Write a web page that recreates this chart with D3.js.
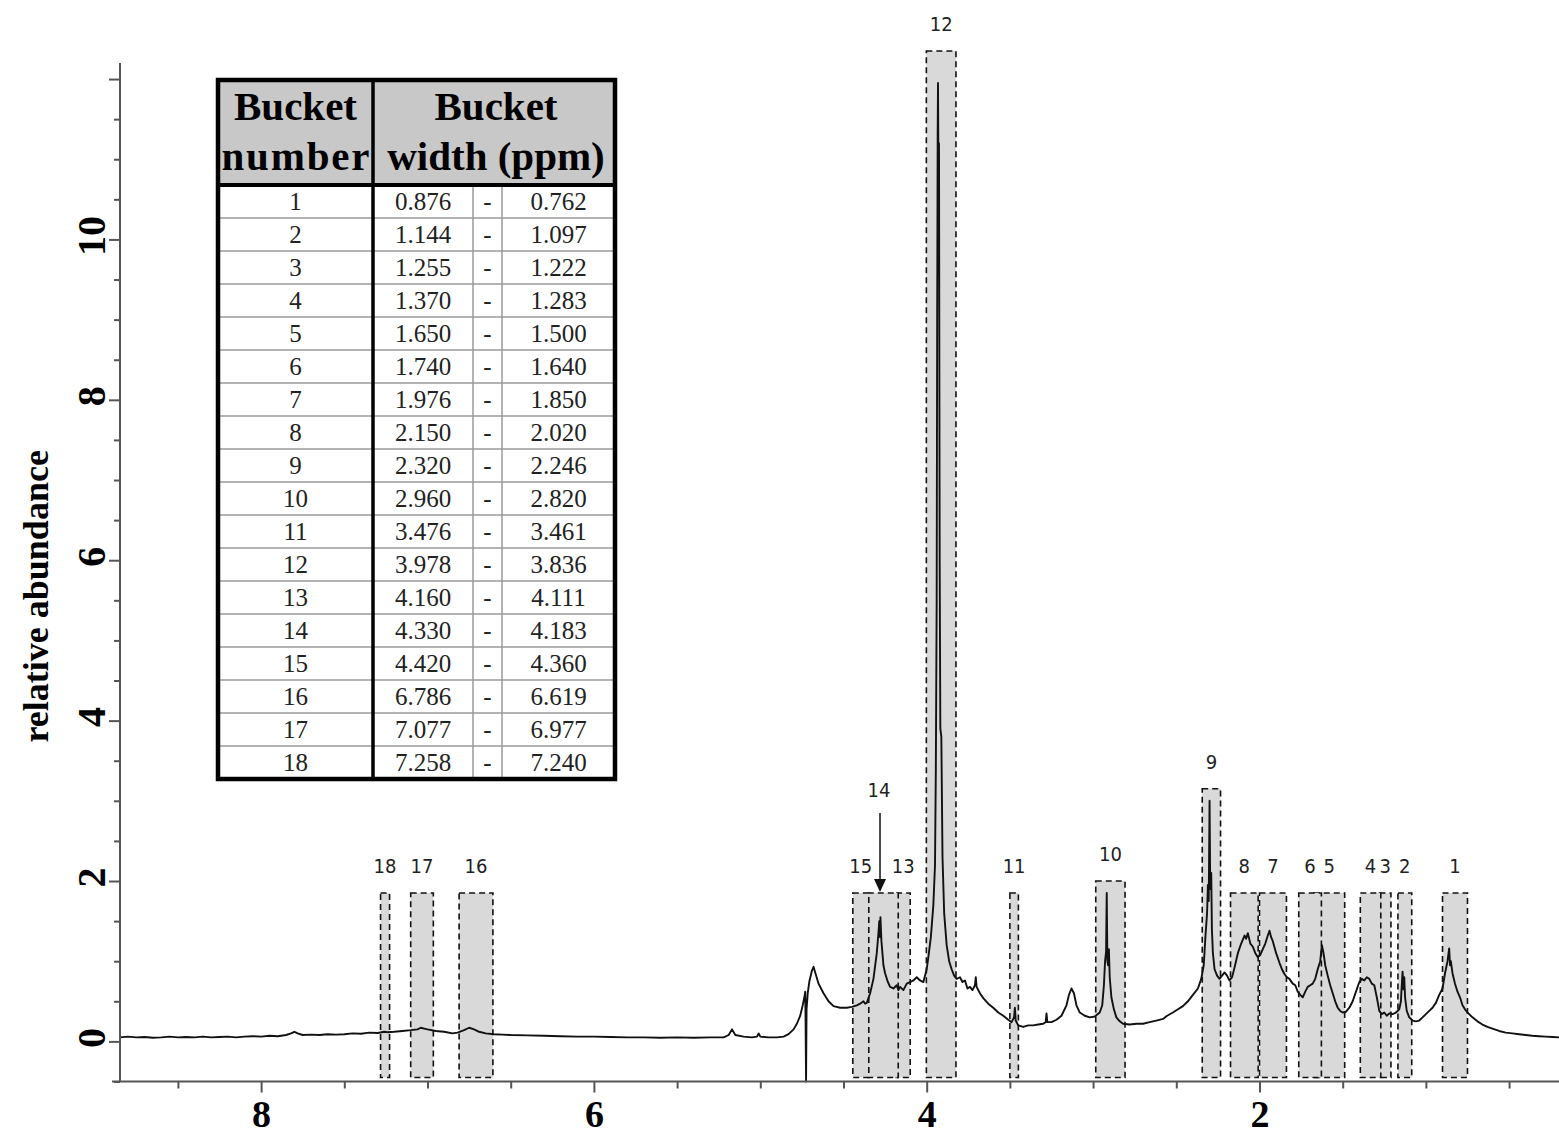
<!DOCTYPE html>
<html>
<head>
<meta charset="utf-8">
<script src="https://cdn.jsdelivr.net/npm/d3@7"></script>
<style>
  body { margin: 0; background: #fff; }
  svg { display: block; }
</style>
</head>
<body>
<svg id="chart" width="1559" height="1138"></svg>
<script>
// ---- bucket table: number, upper and lower chemical shift (ppm)
const bucketIds  = [1, 2, 3, 4, 5, 6, 7, 8, 9, 10, 11, 12, 13, 14, 15, 16, 17, 18];
const bucketFrom = ["0.876","1.144","1.255","1.370","1.650","1.740","1.976","2.150","2.320","2.960","3.476","3.978","4.160","4.330","4.420","6.786","7.077","7.258"];
const bucketTo   = ["0.762","1.097","1.222","1.283","1.500","1.640","1.850","2.020","2.246","2.820","3.461","3.836","4.111","4.183","4.360","6.619","6.977","7.240"];
// height of each shaded bucket window (relative abundance)
const bucketTop  = [1.85, 1.85, 1.85, 1.85, 1.85, 1.85, 1.85, 1.85, 3.15, 2.0, 1.85, 12.35, 1.85, 1.85, 1.85, 1.85, 1.85, 1.85];
const bucketFloor = -0.45;

// ---- axis ticks
const xLabelTicks = [8, 6, 4, 2];
const yLabelTicks = [0, 2, 4, 6, 8, 10];

// ---- 1H NMR spectrum: [chemical shift (ppm), relative abundance]
const spectrum = [
  [8.85,0.05],[8.80,0.06],[8.75,0.05],[8.70,0.055],[8.65,0.045],[8.60,0.05],[8.55,0.06],[8.50,0.05],
  [8.45,0.055],[8.40,0.05],[8.35,0.06],[8.30,0.05],[8.25,0.055],[8.20,0.06],[8.15,0.05],[8.10,0.06],
  [8.05,0.065],[8.00,0.06],[7.95,0.07],[7.90,0.065],[7.85,0.08],[7.82,0.10],[7.80,0.12],[7.78,0.10],
  [7.75,0.08],[7.70,0.085],[7.65,0.08],[7.60,0.09],[7.55,0.085],[7.50,0.09],[7.45,0.10],[7.40,0.095],
  [7.35,0.11],[7.30,0.105],[7.26,0.12],[7.24,0.115],[7.20,0.12],[7.15,0.13],[7.10,0.14],[7.06,0.15],
  [7.04,0.17],[7.02,0.16],[7.00,0.15],[6.95,0.13],[6.90,0.12],[6.85,0.10],[6.82,0.11],[6.78,0.14],
  [6.75,0.17],[6.72,0.15],[6.69,0.12],[6.65,0.10],[6.60,0.09],[6.55,0.085],[6.50,0.08],[6.40,0.075],
  [6.30,0.07],[6.20,0.065],[6.10,0.06],[6.00,0.06],[5.90,0.055],[5.80,0.05],[5.70,0.05],[5.60,0.045],
  [5.50,0.05],[5.40,0.045],[5.30,0.05],[5.22,0.05],[5.19,0.08],[5.17,0.15],[5.15,0.08],[5.10,0.06],
  [5.05,0.05],[5.02,0.06],[5.01,0.10],[5.00,0.06],[4.95,0.05],[4.90,0.05],[4.86,0.06],[4.83,0.09],
  [4.80,0.15],[4.78,0.22],[4.76,0.32],[4.745,0.45],[4.735,0.55],[4.73,0.62],[4.728,0.30],[4.725,-0.50],
  [4.722,0.40],[4.715,0.60],[4.705,0.75],[4.69,0.88],[4.68,0.93],[4.67,0.86],[4.65,0.72],[4.62,0.60],
  [4.59,0.50],[4.56,0.44],[4.52,0.42],[4.48,0.42],[4.45,0.43],[4.42,0.45],[4.40,0.47],[4.38,0.50],
  [4.37,0.47],[4.36,0.48],[4.34,0.60],[4.32,0.78],[4.30,1.10],[4.29,1.35],[4.285,1.50],[4.28,1.30],
  [4.278,1.55],[4.272,1.25],[4.26,0.95],[4.25,0.85],[4.235,0.75],[4.22,0.68],[4.20,0.66],[4.18,0.70],
  [4.17,0.64],[4.16,0.68],[4.14,0.64],[4.12,0.72],[4.10,0.74],[4.08,0.76],[4.06,0.80],[4.04,0.76],
  [4.02,0.74],[4.00,0.90],[3.99,1.05],[3.975,1.30],[3.96,1.70],[3.95,2.20],[3.945,3.40],[3.94,5.50],
  [3.937,9.00],[3.934,11.30],[3.932,11.95],[3.929,10.70],[3.926,11.20],[3.922,6.00],[3.918,3.90],
  [3.912,3.80],[3.905,2.30],[3.895,1.60],[3.88,1.20],[3.865,1.00],[3.85,0.90],[3.835,0.82],[3.82,0.78],
  [3.80,0.80],[3.785,0.74],[3.77,0.76],[3.755,0.66],[3.74,0.68],[3.725,0.64],[3.71,0.70],[3.705,0.80],
  [3.70,0.68],[3.68,0.60],[3.66,0.54],[3.63,0.47],[3.60,0.42],[3.57,0.36],[3.54,0.32],[3.51,0.27],
  [3.49,0.24],[3.475,0.30],[3.47,0.42],[3.465,0.26],[3.45,0.20],[3.42,0.18],[3.39,0.20],[3.36,0.20],
  [3.33,0.21],[3.30,0.22],[3.285,0.24],[3.28,0.35],[3.275,0.24],[3.25,0.24],[3.22,0.27],[3.19,0.32],
  [3.16,0.45],[3.145,0.58],[3.13,0.66],[3.115,0.60],[3.10,0.45],[3.08,0.36],[3.05,0.32],[3.02,0.30],
  [2.99,0.31],[2.96,0.36],[2.945,0.45],[2.935,0.70],[2.928,1.00],[2.922,1.12],[2.918,1.85],[2.914,1.00],
  [2.91,0.95],[2.905,1.15],[2.90,0.80],[2.89,0.55],[2.875,0.40],[2.86,0.30],[2.84,0.25],[2.82,0.22],
  [2.78,0.21],[2.74,0.22],[2.70,0.22],[2.66,0.24],[2.62,0.26],[2.58,0.28],[2.555,0.32],[2.52,0.36],
  [2.49,0.40],[2.46,0.44],[2.43,0.50],[2.40,0.58],[2.37,0.66],[2.35,0.78],[2.335,0.95],[2.325,1.30],
  [2.315,1.60],[2.31,1.95],[2.305,1.75],[2.30,3.00],[2.296,1.90],[2.29,2.10],[2.286,1.40],[2.28,1.10],
  [2.27,0.90],[2.255,0.82],[2.24,0.78],[2.225,0.82],[2.21,0.86],[2.195,0.82],[2.18,0.76],[2.165,0.80],
  [2.15,0.92],[2.13,1.10],[2.11,1.22],[2.09,1.32],[2.08,1.28],[2.07,1.35],[2.055,1.22],[2.04,1.18],
  [2.025,1.10],[2.01,1.05],[1.995,1.08],[1.98,1.15],[1.965,1.22],[1.95,1.32],[1.94,1.38],[1.93,1.30],
  [1.92,1.25],[1.90,1.10],[1.88,0.98],[1.865,0.90],[1.85,0.84],[1.835,0.80],[1.82,0.78],[1.80,0.72],
  [1.785,0.70],[1.77,0.62],[1.755,0.58],[1.74,0.55],[1.725,0.62],[1.71,0.68],[1.695,0.70],[1.68,0.72],
  [1.665,0.78],[1.65,0.90],[1.635,1.00],[1.625,1.20],[1.615,1.10],[1.605,0.95],[1.59,0.82],[1.575,0.70],
  [1.56,0.60],[1.545,0.50],[1.53,0.42],[1.515,0.38],[1.50,0.36],[1.48,0.37],[1.46,0.42],[1.44,0.50],
  [1.42,0.62],[1.40,0.74],[1.385,0.78],[1.37,0.76],[1.355,0.80],[1.34,0.78],[1.325,0.72],[1.31,0.70],
  [1.295,0.55],[1.28,0.38],[1.265,0.34],[1.25,0.36],[1.235,0.32],[1.22,0.35],[1.20,0.34],[1.18,0.36],
  [1.16,0.40],[1.15,0.50],[1.145,0.70],[1.14,0.87],[1.135,0.65],[1.13,0.80],[1.125,0.55],[1.115,0.38],
  [1.10,0.30],[1.08,0.26],[1.06,0.25],[1.04,0.26],[1.02,0.30],[1.00,0.34],[0.98,0.38],[0.96,0.42],
  [0.94,0.48],[0.92,0.58],[0.90,0.66],[0.885,0.85],[0.87,1.00],[0.86,1.16],[0.855,0.95],[0.85,1.00],
  [0.84,0.85],[0.825,0.72],[0.81,0.62],[0.795,0.55],[0.78,0.45],[0.765,0.40],[0.75,0.36],[0.72,0.30],
  [0.69,0.25],[0.66,0.21],[0.63,0.18],[0.60,0.16],[0.56,0.13],[0.52,0.11],[0.48,0.10],[0.44,0.09],
  [0.40,0.08],[0.36,0.07],[0.32,0.065],[0.28,0.06],[0.24,0.055],[0.20,0.05]
];

const svg = d3.select("#chart");
const W = 1559;

// reversed chemical-shift axis, as usual for NMR
const x = d3.scaleLinear().domain([8.848, 0.2]).range([120, W]);
const y = d3.scaleLinear().domain([-0.5, 12.2]).range([1081.5, 63]);

const serif = "'Liberation Serif', 'Times New Roman', serif";
const sans = "'DejaVu Sans Condensed', 'DejaVu Sans', sans-serif";

// ---- bucket windows
const buckets = bucketIds.map((id, i) => ({
  id, hi: +bucketFrom[i], lo: +bucketTo[i], top: bucketTop[i]
}));

const gB = svg.append("g");
gB.selectAll("rect").data(buckets).join("rect")
  .attr("x", d => x(d.hi) - 4)
  .attr("width", d => x(d.lo) - x(d.hi) + 6)
  .attr("y", d => y(d.top))
  .attr("height", d => y(bucketFloor) - y(d.top))
  .attr("fill", "#d9d9d9")
  .attr("stroke", "#111")
  .attr("stroke-width", 1.6)
  .attr("stroke-dasharray", "6,4");

// ---- spectrum trace
const line = d3.line().x(d => x(d[0])).y(d => y(d[1]));
svg.append("path").datum(spectrum)
  .attr("d", line)
  .attr("fill", "none")
  .attr("stroke", "#111")
  .attr("stroke-width", 1.9)
  .attr("stroke-linejoin", "round");

// ---- bucket labels
const cx = d => (x(d.hi) + x(d.lo)) / 2;
const gL = svg.append("g")
  .attr("font-family", sans).attr("font-size", 20).attr("fill", "#222")
  .attr("text-anchor", "middle");
gL.selectAll("text").data(buckets).join("text")
  .attr("x", d => cx(d) - (d.id === 14 ? 5 : 1))
  .attr("y", d => d.id === 14 ? y(d.top) - 96 : y(d.top) - 20)
  .text(d => d.id);

// arrow pointing into bucket 14
const b14 = buckets.find(d => d.id === 14);
const ax = cx(b14) - 4;
svg.append("line")
  .attr("x1", ax).attr("x2", ax)
  .attr("y1", y(b14.top) - 80).attr("y2", y(b14.top) - 12)
  .attr("stroke", "#111").attr("stroke-width", 1.5);
svg.append("path")
  .attr("d", `M${ax - 6},${y(b14.top) - 14} L${ax + 6},${y(b14.top) - 14} L${ax},${y(b14.top) - 1} Z`)
  .attr("fill", "#111");

// ---- axes
const axisColor = "#555";
const xMinor = d3.range(0.5, 8.51, 0.5).filter(v => !xLabelTicks.includes(v));
const gxMinor = svg.append("g").attr("transform", `translate(0,${y(-0.5)})`)
  .call(d3.axisBottom(x).tickValues(xMinor).tickSize(7).tickFormat(""));
const gx = svg.append("g").attr("transform", `translate(0,${y(-0.5)})`)
  .call(d3.axisBottom(x).tickValues(xLabelTicks).tickSize(11).tickPadding(14).tickFormat(d3.format("d")));
gx.select(".domain").attr("d", `M112,0H${W}`);
gxMinor.select(".domain").remove();
[gx, gxMinor].forEach(g => {
  g.selectAll("path,line").attr("stroke", axisColor).attr("stroke-width", 2);
});
gx.selectAll("text")
  .attr("font-family", serif).attr("font-weight", "bold").attr("font-size", 38)
  .attr("fill", "#000").attr("y", 45).attr("dy", 0);

const yMinor = d3.range(-0.5, 12.01, 0.5).filter(v => !(v >= 0 && v % 2 === 0));
const gyMinor = svg.append("g").attr("transform", "translate(120,0)")
  .call(d3.axisLeft(y).tickValues(yMinor).tickSize(6).tickFormat(""));
const gy = svg.append("g").attr("transform", "translate(120,0)")
  .call(d3.axisLeft(y).tickValues([...yLabelTicks, 12]).tickSize(11)
    .tickFormat(d => yLabelTicks.includes(d) ? d3.format("d")(d) : ""));
gyMinor.select(".domain").remove();
gy.select(".domain").attr("d", `M0,${y(12.2)}V${y(-0.5)}`);
[gy, gyMinor].forEach(g => {
  g.selectAll("path,line").attr("stroke", axisColor).attr("stroke-width", 2);
});
gy.selectAll("text")
  .attr("font-family", serif).attr("font-weight", "bold").attr("font-size", 40)
  .attr("fill", "#000")
  .attr("text-anchor", "middle")
  .attr("x", 4).attr("y", -15).attr("dy", 0)
  .attr("transform", "rotate(-90)");

svg.append("text")
  .attr("transform", `translate(48,${y(5.55)}) rotate(-90)`)
  .attr("text-anchor", "middle")
  .attr("font-family", serif).attr("font-weight", "bold").attr("font-size", 36)
  .attr("fill", "#000")
  .text("relative abundance");

// ---- bucket table
const T = { left: 218, right: 615, top: 80, head: 185, bottom: 779 };
const colNum = 373, colDash0 = 473, colDash1 = 502;
const rows = d3.scaleBand().domain(bucketIds).range([T.head, T.bottom]);
const gT = svg.append("g");

gT.append("rect").attr("x", T.left).attr("y", T.top)
  .attr("width", T.right - T.left).attr("height", T.head - T.top).attr("fill", "#c8c8c8");
gT.append("rect").attr("x", T.left).attr("y", T.head)
  .attr("width", T.right - T.left).attr("height", T.bottom - T.head).attr("fill", "#fff");

// thin grey grid inside the body
gT.selectAll("line.row").data(bucketIds.slice(1)).join("line")
  .attr("x1", T.left).attr("x2", T.right)
  .attr("y1", d => rows(d)).attr("y2", d => rows(d))
  .attr("stroke", "#9a9a9a").attr("stroke-width", 1.5);
[colDash0, colDash1].forEach(cxv => {
  gT.append("line").attr("x1", cxv).attr("x2", cxv).attr("y1", T.head).attr("y2", T.bottom)
    .attr("stroke", "#9a9a9a").attr("stroke-width", 1.5);
});

// heavy rules
gT.append("line").attr("x1", colNum).attr("x2", colNum).attr("y1", T.top).attr("y2", T.bottom)
  .attr("stroke", "#000").attr("stroke-width", 3.5);
gT.append("line").attr("x1", T.left).attr("x2", T.right).attr("y1", T.head).attr("y2", T.head)
  .attr("stroke", "#000").attr("stroke-width", 4);
gT.append("rect").attr("x", T.left).attr("y", T.top)
  .attr("width", T.right - T.left).attr("height", T.bottom - T.top)
  .attr("fill", "none").attr("stroke", "#000").attr("stroke-width", 4.5);

// header text
const head = gT.append("g").attr("font-family", serif).attr("font-weight", "bold")
  .attr("font-size", 41).attr("fill", "#000").attr("text-anchor", "middle");
head.append("text").attr("x", (T.left + colNum) / 2).attr("y", 120).text("Bucket");
head.append("text").attr("x", (T.left + colNum) / 2).attr("y", 170)
  .attr("textLength", 148).attr("lengthAdjust", "spacing").text("number");
head.append("text").attr("x", (colNum + T.right) / 2 + 2).attr("y", 120).text("Bucket");
head.append("text").attr("x", (colNum + T.right) / 2 + 2).attr("y", 170).text("width (ppm)");

// body text
const body = gT.append("g").attr("font-family", serif).attr("font-size", 25)
  .attr("fill", "#222").attr("text-anchor", "middle");
const rowBase = d => rows(d) + rows.bandwidth() / 2 + 8.5;
body.selectAll("text.id").data(bucketIds).join("text")
  .attr("x", (T.left + colNum) / 2).attr("y", rowBase).text(d => d);
body.selectAll("text.from").data(bucketIds).join("text")
  .attr("x", (colNum + colDash0) / 2).attr("y", rowBase).text((d, i) => bucketFrom[i]);
body.selectAll("text.dash").data(bucketIds).join("text")
  .attr("x", (colDash0 + colDash1) / 2).attr("y", rowBase).text("-");
body.selectAll("text.to").data(bucketIds).join("text")
  .attr("x", (colDash1 + T.right) / 2).attr("y", rowBase).text((d, i) => bucketTo[i]);
</script>
</body>
</html>
